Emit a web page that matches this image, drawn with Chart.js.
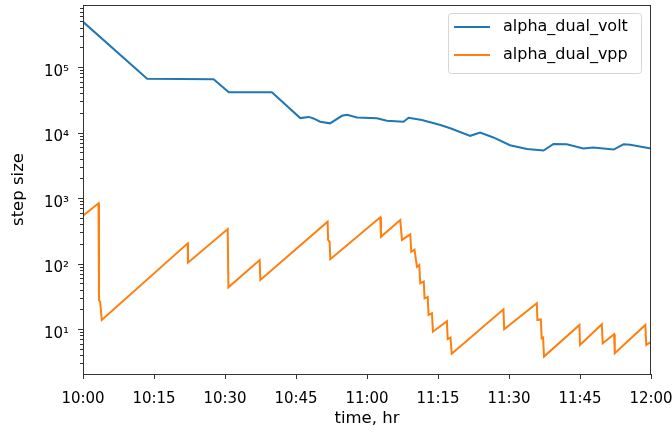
<!DOCTYPE html>
<html>
<head>
<meta charset="utf-8">
<script src="https://cdn.jsdelivr.net/npm/chart.js@4/dist/chart.umd.min.js"></script>
<style>
  html, body { margin: 0; padding: 0; background: #fff; }
  #wrap { width: 672px; height: 432px; }
</style>
</head>
<body>
<div id="wrap"><canvas id="stepChart" width="672" height="432"></canvas></div>
<script>
// time is minutes after 10:00
const voltMinutes = [0, 13.55, 27.6, 30.8, 39.9, 45.9, 47.7, 48.7, 50.1, 52.2, 54.7, 55.8, 57.9, 62.1,
    64.2, 67.7, 68.8, 71.6, 75.5, 77.6, 81.8, 83.9, 86.7, 90.2, 93.8, 97.3, 99.4, 102.2, 105.7, 107.8,
    112.1, 114.2, 115.6, 120]
const voltStep = [4.9e5, 6.6e4, 6.5e4, 4.1e4, 4.1e4, 1.66e4, 1.73e4, 1.64e4, 1.46e4, 1.38e4, 1.8e4, 1.87e4,
    1.7e4, 1.65e4, 1.51e4, 1.46e4, 1.68e4, 1.55e4, 1.3e4, 1.16e4, 8.9e3, 1.0e4, 8.4e3, 6.4e3, 5.6e3, 5.3e3,
    6.7e3, 6.6e3, 5.7e3, 5.9e3, 5.5e3, 6.6e3, 6.5e3, 5.7e3]

const vppMinutes = [0, 3.27, 3.38, 3.63, 3.97, 22.12, 22.18, 30.57, 30.72, 37.32, 37.47, 51.68, 51.78, 52.1,
    52.25, 62.8, 62.95, 67.03, 67.38, 69.14, 69.35, 70.04, 70.55, 71.04, 71.25, 71.99, 72.16, 72.83, 73.0,
    73.72, 73.93, 76.88, 77.05, 77.64, 77.9, 88.83, 88.98, 95.88, 96.0, 96.73, 96.9, 97.2, 97.4, 104.88,
    105.0, 109.6, 109.8, 112.2, 112.35, 118.8, 119.0, 120]
const vppStep = [537, 830, 27.7, 25.8, 13.7, 203, 103, 336, 43.4, 113, 56, 435, 229, 215, 116, 507, 256, 461,
    229, 279, 151, 163, 89, 95, 50, 53, 29.4, 30.8, 16.4, 17.4, 9.1, 13.2, 7.0, 7.4, 4.2, 20, 9.9, 24.7,
    13.7, 14, 7.2, 7.4, 3.8, 11.5, 5.7, 11.8, 6.05, 8.3, 4.26, 11.5, 5.7, 6.4]

const timeLabels = ['10:00', '10:15', '10:30', '10:45', '11:00', '11:15', '11:30', '11:45', '12:00']
const decadeTicks = [10, 100, 1000, 10000, 100000]

const sup = {'0': '⁰', '1': '¹', '2': '²', '3': '³', '4': '⁴', '5': '⁵', '6': '⁶', '7': '⁷', '8': '⁸', '9': '⁹'}

function toPoints(xs, ys) {
    return xs.map((x, i) => ({x: x, y: ys[i]}))
}

// keep the plot box fixed: no extra room for overhanging edge labels
function fixBox(scale, w, h) {
    if (w) scale.width = w
    if (h) scale.height = h
    scale.paddingTop = 0
    scale.paddingBottom = 0
    scale.paddingLeft = 0
    scale.paddingRight = 0
}

// frame, tick marks and legend drawn on top of the lines
const axesFrame = {
    id: 'axesFrame',
    afterDraw(chart) {
        const {ctx, chartArea: a, scales: {x, y}} = chart
        ctx.save()
        ctx.strokeStyle = '#333'
        ctx.lineWidth = 1

        const seg = (x1, y1, x2, y2) => {
            ctx.beginPath()
            ctx.moveTo(x1, y1)
            ctx.lineTo(x2, y2)
            ctx.stroke()
        }

        for (let e = 0; e <= 5; e++) {
            for (let m = 1; m <= 9; m++) {
                const v = m * Math.pow(10, e)
                if (v < y.min || v > y.max) continue
                const py = Math.round(y.getPixelForValue(v)) + 0.5
                seg(a.left - (m === 1 ? 5 : 3), py, a.left, py)
            }
        }
        timeLabels.forEach((t, i) => {
            const px = Math.round(x.getPixelForValue(i * 15)) + 0.5
            seg(px, a.bottom, px, a.bottom + 5)
        })
        ctx.strokeRect(Math.round(a.left) + 0.5, Math.round(a.top) + 0.5,
            Math.round(a.right - a.left) - 1, Math.round(a.bottom - a.top))

        // legend box, upper right
        const bx = 448.5, by = 13.5, bw = 193, bh = 60, r = 3
        ctx.beginPath()
        ctx.roundRect(bx, by, bw, bh, r)
        ctx.fillStyle = 'rgba(255,255,255,0.8)'
        ctx.fill()
        ctx.strokeStyle = '#d6d6d6'
        ctx.stroke()

        ctx.font = '16px "DejaVu Sans"'
        ctx.textBaseline = 'middle'
        ctx.textAlign = 'left'
        chart.data.datasets.forEach((ds, i) => {
            const ly = 27 + i * 28
            ctx.strokeStyle = ds.borderColor
            ctx.lineWidth = 2
            seg(454, ly, 490, ly)
            ctx.fillStyle = '#000'
            ctx.fillText(ds.label, 503, ly)
        })
        ctx.restore()
    }
}

Chart.defaults.font.family = '"DejaVu Sans"'
Chart.defaults.font.size = 15
Chart.defaults.color = '#000'

const ctxChart = document.getElementById('stepChart')

new Chart(ctxChart, {
    type: 'line',
    data: {
        datasets: [{
            label: 'alpha_dual_volt',
            data: toPoints(voltMinutes, voltStep),
            borderColor: '#1f77b4',
            borderWidth: 2,
            pointRadius: 0,
            tension: 0
        }, {
            label: 'alpha_dual_vpp',
            data: toPoints(vppMinutes, vppStep),
            borderColor: '#ff7f0e',
            borderWidth: 2,
            pointRadius: 0,
            tension: 0
        }]
    },
    options: {
        responsive: false,
        animation: false,
        layout: {padding: {top: 5, right: 21, left: 0, bottom: 0}},
        plugins: {
            legend: {display: false},
            tooltip: {enabled: false}
        },
        scales: {
            x: {
                type: 'linear',
                min: 0,
                max: 120,
                grid: {display: false, drawTicks: false},
                border: {display: false},
                ticks: {
                    stepSize: 15,
                    padding: 16,
                    maxRotation: 0,
                    callback: (v) => timeLabels[Math.round(v / 15)]
                },
                title: {display: true, text: 'time, hr', font: {size: 16.5}, padding: {top: 0, bottom: 3}},
                afterFit: (scale) => fixBox(scale, 0, 58)
            },
            y: {
                type: 'logarithmic',
                min: 2.056,
                max: 8.845e5,
                grid: {display: false, drawTicks: false},
                border: {display: false},
                afterBuildTicks: (scale) => {
                    scale.ticks = decadeTicks.map(v => ({value: v, major: true}))
                },
                ticks: {
                    autoSkip: false,
                    padding: 14,
                    labelOffset: 5,
                    callback: (v) => '10' + String(Math.round(Math.log10(v))).split('').map(d => sup[d]).join('')
                },
                title: {display: true, text: 'step size', font: {size: 16.5}, padding: {top: 9, bottom: 0}},
                afterFit: (scale) => fixBox(scale, 83, 0)
            }
        }
    },
    plugins: [axesFrame]
})
</script>
</body>
</html>
